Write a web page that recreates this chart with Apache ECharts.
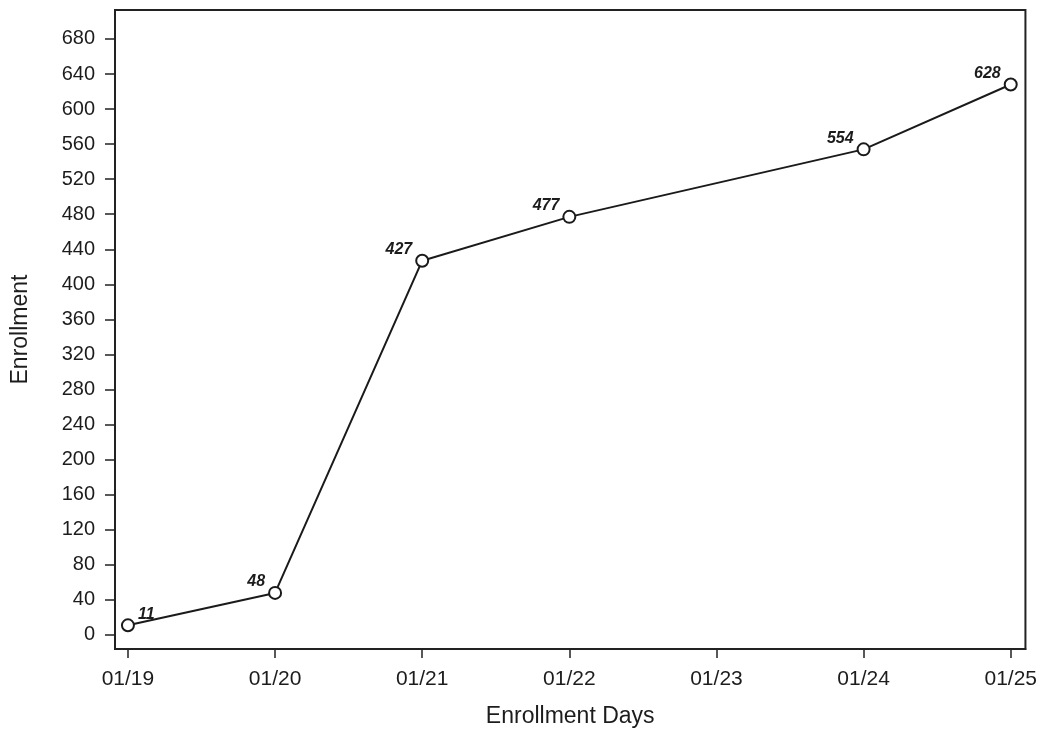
<!DOCTYPE html>
<html>
<head>
<meta charset="utf-8">
<script src="https://cdn.jsdelivr.net/npm/echarts@6/dist/echarts.min.js"></script>
<style>
  html, body { margin: 0; padding: 0; background: #fff; }
  #chart { width: 1040px; height: 735px; }
</style>
</head>
<body>
<div id="chart"></div>
<script>
// Enrollment days shown on the horizontal axis
const dayLabels = ['01/19', '01/20', '01/21', '01/22', '01/23', '01/24', '01/25'];
// Day index (into dayLabels) of each recorded point
const pointDays = [0, 1, 2, 3, 5, 6];
// Cumulative enrollment on each recorded day
const enrollment = [11, 48, 427, 477, 554, 628];
// Y tick values
const yTicks = [0, 40, 80, 120, 160, 200, 240, 280, 320, 360, 400, 440, 480, 520, 560, 600, 640, 680];

const ink = '#1c1c1c';
const font = 'Liberation Sans, Arial, sans-serif';

const seriesData = pointDays.map((d, i) => ({
  value: [d, enrollment[i]],
  label: {
    position: i === 0 ? 'right' : 'left',
    distance: 3,
    offset: [0, -11]
  }
}));

const chart = echarts.init(document.getElementById('chart'), null, { renderer: 'canvas' });
chart.setOption({
  animation: false,
  backgroundColor: '#fff',
  grid: {
    left: 115, right: 13, top: 10, bottom: 86,
    show: true, borderColor: '#222', borderWidth: 2, backgroundColor: 'transparent'
  },
  xAxis: {
    type: 'value',
    min: -0.088,
    max: 6.1,
    name: 'Enrollment Days',
    nameLocation: 'middle',
    nameGap: 56,
    nameTextStyle: { color: ink, fontSize: 23, fontFamily: font },
    axisLine: { show: true, onZero: false, lineStyle: { color: '#222', width: 2 } },
    splitLine: { show: false },
    axisTick: {
      show: true, inside: false, length: 9,
      customValues: dayLabels.map((_, i) => i),
      lineStyle: { color: '#222', width: 1.5 }
    },
    axisLabel: {
      customValues: dayLabels.map((_, i) => i),
      formatter: v => dayLabels[Math.round(v)],
      color: ink, fontSize: 21, fontFamily: font, margin: 20
    }
  },
  yAxis: {
    type: 'value',
    min: -16,
    max: 713,
    name: 'Enrollment',
    nameLocation: 'middle',
    nameRotate: 90,
    nameGap: 83,
    nameTextStyle: { color: ink, fontSize: 23, fontFamily: font },
    axisLine: { show: true, onZero: false, lineStyle: { color: '#222', width: 2 } },
    splitLine: { show: false },
    axisTick: {
      show: true, inside: false, length: 10,
      customValues: yTicks,
      lineStyle: { color: '#222', width: 1.5 }
    },
    axisLabel: {
      customValues: yTicks,
      color: ink, fontSize: 20, fontFamily: font, margin: 20
    }
  },
  series: [{
    type: 'line',
    data: seriesData,
    symbol: 'emptyCircle',
    symbolSize: 12,
    lineStyle: { color: '#1a1a1a', width: 2 },
    itemStyle: { color: '#1a1a1a', borderWidth: 1.3 },
    label: {
      show: true,
      formatter: p => String(p.value[1]),
      color: ink,
      fontSize: 16,
      fontWeight: 'bold',
      fontStyle: 'italic',
      fontFamily: font
    }
  }]
});
</script>
</body>
</html>
